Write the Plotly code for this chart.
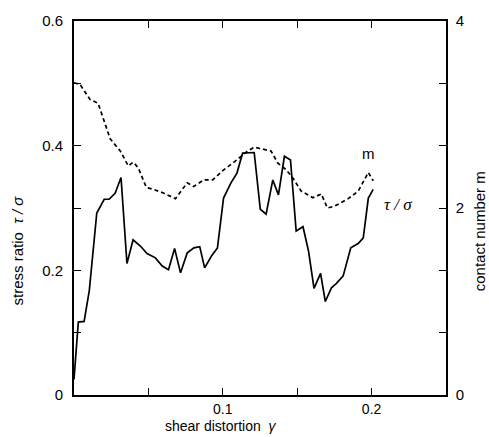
import plotly.graph_objects as go

# stress ratio tau/sigma (left axis) vs shear distortion gamma
gamma_tau = [0.0, 0.0029, 0.0068, 0.0103, 0.0153, 0.0203, 0.0236, 0.0277, 0.0316, 0.0356,
             0.0397, 0.0446, 0.0491, 0.0547, 0.0593, 0.0635, 0.0676, 0.0716, 0.0761, 0.0806,
             0.0845, 0.0878, 0.0924, 0.0964, 0.1005, 0.1054, 0.1095, 0.1133, 0.1211, 0.1252,
             0.1291, 0.1336, 0.1374, 0.1414, 0.1455, 0.1493, 0.1539, 0.1576, 0.1613, 0.1657,
             0.1689, 0.1730, 0.1764, 0.1809, 0.1860, 0.1910, 0.1944, 0.1978, 0.2011]
tau_sigma = [0.025, 0.117, 0.118, 0.168, 0.292, 0.314, 0.314, 0.324, 0.349, 0.211,
             0.249, 0.239, 0.227, 0.220, 0.207, 0.201, 0.235, 0.196, 0.228, 0.236,
             0.238, 0.204, 0.223, 0.236, 0.316, 0.340, 0.356, 0.388, 0.389, 0.298,
             0.290, 0.345, 0.321, 0.383, 0.377, 0.263, 0.270, 0.231, 0.171, 0.195,
             0.150, 0.172, 0.179, 0.191, 0.236, 0.243, 0.252, 0.316, 0.330]

# contact number m (right axis)
gamma_m = [0.0, 0.0041, 0.0108, 0.0162, 0.0243, 0.0311, 0.0365, 0.0399, 0.0432, 0.0486,
           0.0534, 0.0601, 0.0682, 0.0761, 0.0804, 0.0872, 0.0932, 0.1000, 0.1099, 0.1167,
           0.1211, 0.1279, 0.1324, 0.1370, 0.1426, 0.1471, 0.1527, 0.1606, 0.1662, 0.1703,
           0.1752, 0.1843, 0.1910, 0.1978, 0.2011]
contact_m = [3.34, 3.32, 3.16, 3.12, 2.74, 2.61, 2.45, 2.49, 2.43, 2.22,
             2.20, 2.16, 2.10, 2.27, 2.23, 2.30, 2.30, 2.40, 2.52, 2.61,
             2.65, 2.63, 2.61, 2.48, 2.41, 2.32, 2.18, 2.11, 2.15, 2.00,
             2.02, 2.10, 2.18, 2.38, 2.29]

x_tickvals = [0.05, 0.1, 0.15, 0.2]
x_ticktext = ["", "0.1", "", "0.2"]
y_tickvals = [0, 0.1, 0.2, 0.3, 0.4, 0.5, 0.6]
y_ticktext = ["0", "", "0.2", "", "0.4", "", "0.6"]
y2_tickvals = [0, 2/3, 4/3, 2, 8/3, 10/3, 4]
y2_ticktext = ["0", "", "", "2", "", "", "4"]

FONT = "Liberation Sans, Arial, sans-serif"

fig = go.Figure()
fig.add_trace(go.Scatter(x=gamma_tau, y=tau_sigma, mode="lines",
                         line=dict(color="black", width=1.7), yaxis="y", showlegend=False))
fig.add_trace(go.Scatter(x=gamma_m, y=contact_m, mode="lines",
                         line=dict(color="black", width=1.7, dash="4px,3px"),
                         yaxis="y2", showlegend=False))

axis_common = dict(showgrid=False, zeroline=False, showline=True, linecolor="black",
                   linewidth=1.7, ticks="inside", ticklen=7, tickwidth=1.4,
                   tickcolor="black")
tick_font = dict(family=FONT, size=15, color="black")

fig.update_layout(
    width=489, height=437,
    margin=dict(l=74, r=43, t=19, b=42),
    paper_bgcolor="white", plot_bgcolor="white",
    xaxis=dict(range=[0, 0.25], tickvals=x_tickvals, ticktext=x_ticktext,
               mirror="ticks", ticklabelstandoff=0,
               tickfont=dict(family=FONT, size=14, color="black"), **axis_common),
    yaxis=dict(range=[0, 0.6], tickvals=y_tickvals, ticktext=y_ticktext,
               mirror=True, ticklabelstandoff=6, tickfont=tick_font, **axis_common),
    yaxis2=dict(range=[0, 4], tickvals=y2_tickvals, ticktext=y2_ticktext,
                overlaying="y", side="right", ticklabelstandoff=5, tickfont=tick_font,
                **axis_common),
    annotations=[
        dict(text="shear distortion  <i>γ</i>", x=0.394, y=-0.110, xref="paper", yref="paper",
             showarrow=False, xanchor="center", yanchor="bottom",
             font=dict(family=FONT, size=14, color="black")),
        dict(text="stress ratio  <i>τ / σ</i>", x=-0.151, y=0.386, xref="paper", yref="paper",
             showarrow=False, textangle=-90, xanchor="center", yanchor="middle",
             font=dict(family=FONT, size=15, color="black")),
        dict(text="contact number m", x=1.090, y=0.439, xref="paper", yref="paper",
             showarrow=False, textangle=-90, xanchor="center", yanchor="middle",
             font=dict(family=FONT, size=15, color="black")),
        dict(text="m", x=0.1978, y=0.388, xref="x", yref="y", showarrow=False,
             xanchor="center", yanchor="middle",
             font=dict(family=FONT, size=15, color="black")),
        dict(text="<i>τ / σ</i>", x=0.218, y=0.306, xref="x", yref="y", showarrow=False,
             xanchor="center", yanchor="middle",
             font=dict(family="Liberation Serif, serif", size=17, color="black")),
    ],
)

fig.write_html("out.html")
